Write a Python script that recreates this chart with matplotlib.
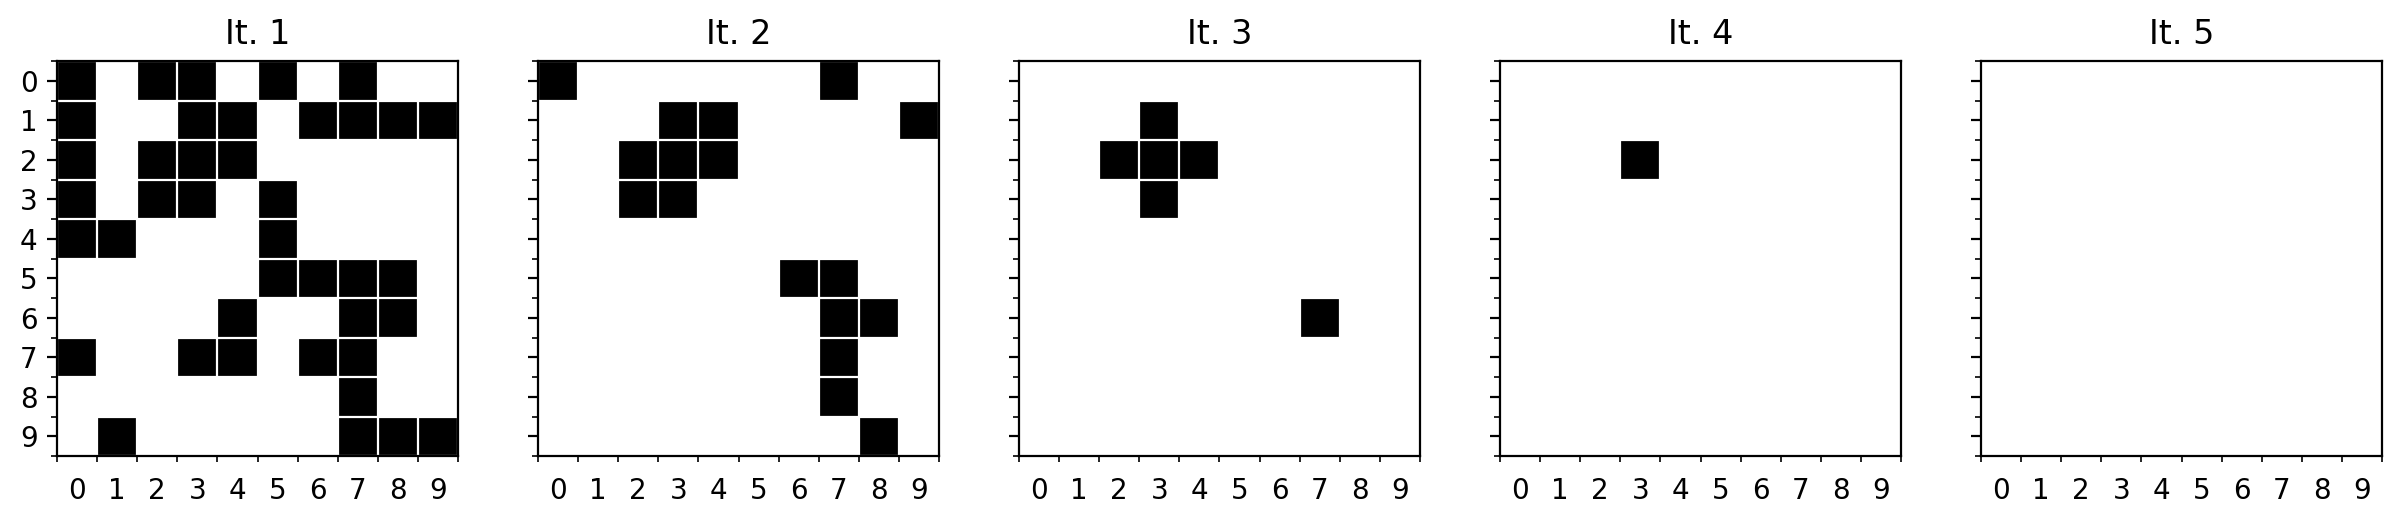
import numpy as np
import matplotlib
matplotlib.use("Agg")
import matplotlib.pyplot as plt

n = 10
titles = ["It. 1", "It. 2", "It. 3", "It. 4", "It. 5"]

# filled cells per row for each iteration (column indices)
it1_rows = [[0, 2, 3, 5, 7], [0, 3, 4, 6, 7, 8, 9], [0, 2, 3, 4], [0, 2, 3, 5], [0, 1, 5],
            [5, 6, 7, 8], [4, 7, 8], [0, 3, 4, 6, 7], [7], [1, 7, 8, 9]]
it2_rows = [[0, 7], [3, 4, 9], [2, 3, 4], [2, 3], [], [6, 7], [7, 8], [7], [7], [8]]
it3_rows = [[], [3], [2, 3, 4], [3], [], [], [7], [], [], []]
it4_rows = [[], [], [3], [], [], [], [], [], [], []]
it5_rows = [[], [], [], [], [], [], [], [], [], []]


def to_grid(rows):
    g = np.zeros((n, n))
    for r, cols in enumerate(rows):
        for c in cols:
            g[r, c] = 1
    return g


grids = [to_grid(r) for r in [it1_rows, it2_rows, it3_rows, it4_rows, it5_rows]]

W, H = 2402, 530
dpi = 200
fig = plt.figure(figsize=(W / dpi, H / dpi), dpi=dpi)

lefts = [57, 538, 1019, 1500, 1981]
ax_w, ax_top, ax_bot = 401, 61, 456

for i, (grid, title) in enumerate(zip(grids, titles)):
    ax = fig.add_axes([lefts[i] / W, 1 - ax_bot / H, ax_w / W, (ax_bot - ax_top) / H])
    ax.imshow(grid, cmap="Greys", vmin=0, vmax=1, aspect="auto", interpolation="nearest")
    ax.set_title(title)
    ax.set_xticks(np.arange(n))
    ax.set_yticks(np.arange(n))
    ax.set_xticks(np.arange(-0.5, n, 1), minor=True)
    ax.set_yticks(np.arange(-0.5, n, 1), minor=True)
    ax.grid(which="minor", color="w", linewidth=0.8)
    ax.tick_params(axis="x", which="major", length=0, pad=7.5)
    if i > 0:
        ax.tick_params(axis="y", which="major", labelleft=False)

fig.savefig("out.png", dpi=dpi)
